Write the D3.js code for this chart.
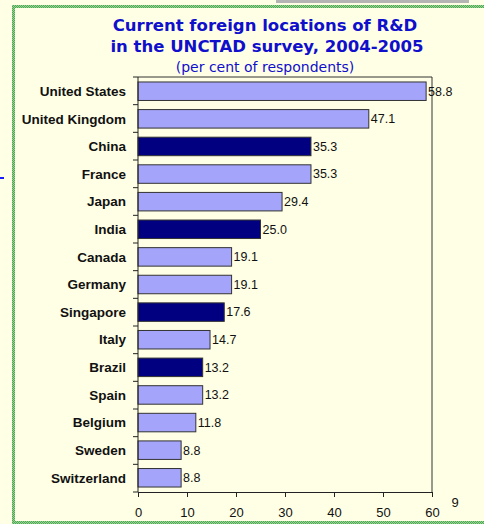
<!DOCTYPE html>
<html>
<head>
<meta charset="utf-8">
<style>
body { margin: 0; background: #ffffe5; }
svg { display: block; }
.cat { font: bold 13.5px Arial, "Liberation Sans", sans-serif; fill: #111; }
.val { font: 12.5px Arial, "Liberation Sans", sans-serif; fill: #111; }
.tick text { font: 13px Arial, "Liberation Sans", sans-serif; fill: #111; }
</style>
</head>
<body>
<svg width="484" height="524"></svg>
<script src="https://cdnjs.cloudflare.com/ajax/libs/d3/7.8.5/d3.min.js"></script>
<script>

var countries = ["United States", "United Kingdom", "China", "France", "Japan", "India", "Canada",
  "Germany", "Singapore", "Italy", "Brazil", "Spain", "Belgium", "Sweden", "Switzerland"];
var values = [58.8, 47.1, 35.3, 35.3, 29.4, 25.0, 19.1, 19.1, 17.6, 14.7, 13.2, 13.2, 11.8, 8.8, 8.8];
var developing = ["China", "India", "Singapore", "Brazil"];
var xTicks = [0, 10, 20, 30, 40, 50, 60];

var svg = d3.select("svg");

// slide background pieces
svg.append("rect").attr("x", 0).attr("y", 0).attr("width", 484).attr("height", 524).attr("fill", "#ffffe5");
svg.append("rect").attr("x", 276).attr("y", 0).attr("width", 193).attr("height", 3).attr("fill", "#b4b4b4");
svg.append("rect").attr("x", 0).attr("y", 177).attr("width", 4).attr("height", 2).attr("fill", "#1a1aff");

var defs = svg.append("defs");
var pat = defs.append("pattern").attr("id", "greenDots")
  .attr("width", 2).attr("height", 2).attr("patternUnits", "userSpaceOnUse");
pat.append("rect").attr("width", 2).attr("height", 2).attr("fill", "#9ad39a");
pat.append("rect").attr("width", 1).attr("height", 1).attr("fill", "#4ea84e");
pat.append("rect").attr("x", 1).attr("y", 1).attr("width", 1).attr("height", 1).attr("fill", "#4ea84e");

svg.append("rect").attr("x", 12).attr("y", 5).attr("width", 472).attr("height", 3).attr("fill", "url(#greenDots)");
svg.append("rect").attr("x", 12).attr("y", 5).attr("width", 3).attr("height", 519).attr("fill", "url(#greenDots)");
svg.append("rect").attr("x", 12).attr("y", 521).attr("width", 472).attr("height", 3).attr("fill", "url(#greenDots)");

// titles
var title = svg.append("text")
  .attr("text-anchor", "middle")
  .style("font", "bold 16.5px Verdana, 'DejaVu Sans', sans-serif")
  .attr("fill", "#0f0fcc");
title.append("tspan").attr("x", 265).attr("y", 31).text("Current foreign locations of R&D");
title.append("tspan").attr("x", 267).attr("y", 52).text("in the UNCTAD survey, 2004-2005");

svg.append("text")
  .attr("x", 265).attr("y", 72)
  .attr("text-anchor", "middle")
  .style("font", "14px Tahoma, 'DejaVu Sans', sans-serif")
  .attr("fill", "#0f0fcc")
  .text("(per cent of respondents)");

var plotL = 138, plotR = 432, plotT = 77, plotB = 492;

var x = d3.scaleLinear().domain([0, 60]).range([plotL, plotR]);
var y = d3.scaleBand().domain(countries).range([plotT, plotB]).paddingInner(0.33).paddingOuter(0.18);

// plot box right and top edges
svg.append("line").attr("x1", plotL).attr("x2", plotR).attr("y1", plotT).attr("y2", plotT)
  .attr("stroke", "#333").attr("stroke-width", 1);
svg.append("line").attr("x1", plotR).attr("x2", plotR).attr("y1", plotT).attr("y2", plotB)
  .attr("stroke", "#333").attr("stroke-width", 1);

svg.selectAll(".bar")
  .data(countries)
  .enter().append("rect")
  .attr("class", "bar")
  .attr("x", x(0))
  .attr("y", function(d) { return y(d); })
  .attr("width", function(d, i) { return x(values[i]) - x(0); })
  .attr("height", y.bandwidth())
  .attr("fill", function(d) { return developing.indexOf(d) >= 0 ? "#000080" : "#a4a4fa"; })
  .attr("stroke", "#333")
  .attr("stroke-width", 1);

svg.selectAll(".val")
  .data(countries)
  .enter().append("text")
  .attr("class", "val")
  .attr("x", function(d, i) { return x(values[i]) + 2; })
  .attr("y", function(d) { return y(d) + y.bandwidth() / 2; })
  .attr("dy", "0.35em")
  .text(function(d, i) { return values[i].toFixed(1); });

svg.selectAll(".cat")
  .data(countries)
  .enter().append("text")
  .attr("class", "cat")
  .attr("x", 126)
  .attr("y", function(d) { return y(d) + y.bandwidth() / 2; })
  .attr("dy", "0.35em")
  .attr("text-anchor", "end")
  .text(function(d) { return d; });

// left axis with ticks between categories
var step = (plotB - plotT) / countries.length;
var boundaries = d3.range(countries.length + 1).map(function(i) { return plotT + i * step; });
svg.append("line").attr("x1", plotL).attr("x2", plotL).attr("y1", plotT).attr("y2", plotB)
  .attr("stroke", "#222");
svg.selectAll(".ytick")
  .data(boundaries)
  .enter().append("line")
  .attr("x1", plotL - 5).attr("x2", plotL)
  .attr("y1", function(d) { return d; }).attr("y2", function(d) { return d; })
  .attr("stroke", "#222");

// bottom axis
var xAxis = svg.append("g")
  .attr("transform", "translate(0," + plotB + ")")
  .call(d3.axisBottom(x).tickValues(xTicks).tickSize(5).tickPadding(11));
xAxis.select(".domain").attr("stroke", "#222");
xAxis.selectAll(".tick line").attr("stroke", "#222");

// slide number
svg.append("text")
  .attr("x", 455).attr("y", 507)
  .attr("text-anchor", "middle")
  .style("font", "13px Arial, 'Liberation Sans', sans-serif")
  .attr("fill", "#111")
  .text("9");

</script>
</body>
</html>
